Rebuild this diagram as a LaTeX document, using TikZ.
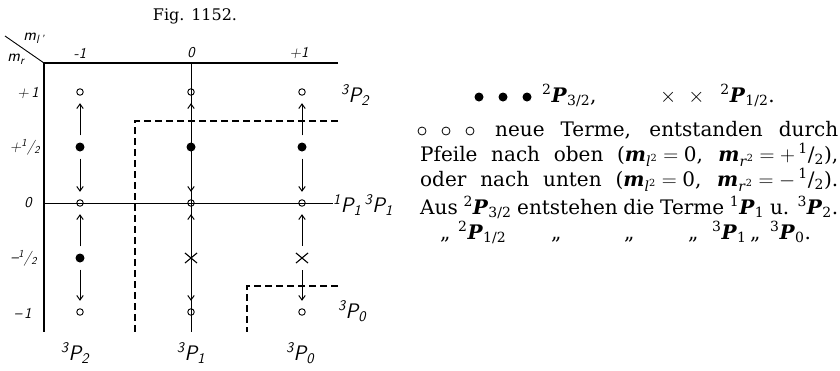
\documentclass[tikz,border=0pt]{standalone}
\usepackage{fontspec}
\setmainfont{DejaVu Serif}
\usetikzlibrary{arrows.meta,shapes.misc}
\newcommand{\Tm}[2]{\textsuperscript{#1}\textbf{\textit{P}}\textsubscript{#2}}
\newcommand{\Mq}[1]{\textbf{\textit{m}}\textsubscript{\textit{#1}\textsuperscript{2}}}
\newcommand{\Hf}{\textsuperscript{1}/\textsubscript{2}}
\newcommand{\Lt}[2]{\textsuperscript{#1}P\textsubscript{#2}}
\newcommand{\Lf}{\textsuperscript{1}/\textsubscript{2}}
\tikzset{
  oc/.style={circle,draw,inner sep=0pt,minimum size=6.5pt,line width=0.9pt},
  fd/.style={circle,fill,inner sep=0pt,minimum size=9pt},
  xx/.style={cross out,draw,inner sep=0pt,minimum width=11pt,minimum height=9pt,line width=1.1pt},
  arr/.style={-{Straight Barb[length=4.5pt,width=6.5pt]},line width=1pt,shorten >=7.5pt,shorten <=7pt},
  lab/.style={font=\sffamily\slshape\fontsize{15}{15}\selectfont,inner sep=0pt},
  term/.style={font=\sffamily\slshape\fontsize{21}{21}\selectfont,inner sep=0pt},
  dsh/.style={dash pattern=on 7pt off 4pt,line width=1.2pt},
  axis/.style={line width=1.2pt},
  txt/.style={inner sep=0pt,anchor=base west,font=\fontsize{20}{24}\selectfont},
  toc/.style={circle,draw,inner sep=0pt,minimum size=8pt,line width=0.8pt},
}
\begin{document}
\begin{tikzpicture}[x=1pt,y=-1pt]
\useasboundingbox (0,0) rectangle (840,370);
% title
\node[font=\fontsize{16}{16}\selectfont] (title) at (195,16) {Fig. 1152.};
% axes
\coordinate (O) at (44,63);
\coordinate (Tend) at (338,63);
\coordinate (Lend) at (44,332);
\coordinate (D) at (5,36);
\draw[axis] (Tend) -- (O) -- (Lend);
\draw[line width=0.9pt] (D) -- (O);
\node[lab,font=\sffamily\slshape\fontsize{17}{17}\selectfont] (ml) at (34,38) {\textit{m}\textsubscript{\textit{l}\,'}};
\node[lab,font=\sffamily\slshape\fontsize{17}{17}\selectfont] (mr) at (16,59) {\textit{m}\textsubscript{\textit{r}}};
% column headers
\node[lab] (hm) at (80,53) {-1};
\node[lab] (h0) at (191,53) {0};
\node[lab] (hp) at (299,53) {+1};
% row labels
\node[lab] (r1) at (28,93) {+\,1};
\node[lab] (r2) at (25,147) {+\Lf};
\node[lab] (r3) at (28,203) {0};
\node[lab] (r4) at (24,258) {\textendash\Lf};
\node[lab] (r5) at (23,313) {\textendash\,1};
% term labels
\node[term] (t2r) at (355,95) {\Lt{3}{2}};
\node[term,anchor=west] (t11) at (333,205) {\Lt{1}{1}\,\Lt{3}{1}};
\node[term] (t0r) at (352,311) {\Lt{3}{0}};
\node[term] (b2) at (75,353) {\Lt{3}{2}};
\node[term] (b1) at (191,353) {\Lt{3}{1}};
\node[term] (b0) at (300,353) {\Lt{3}{0}};
% row 0 line and column 0 line
\coordinate (Z0) at (44,203);
\draw[line width=0.8pt] (Z0) -- (Z0 -| t11.west);
\coordinate (C0t) at (191,63);
\coordinate (C0b) at (191,332);
\draw[line width=0.9pt] (C0t) -- (C0b);
% dashed lines
\coordinate (U1) at (338,121);
\coordinate (U2) at (135,121);
\coordinate (U3) at (135,332);
\draw[dsh] (U1) -- (U2) -- (U3);
\coordinate (V1) at (338,286);
\coordinate (V2) at (247,286);
\coordinate (V3) at (247,332);
\draw[dsh] (V1) -- (V2) -- (V3);
% column -1
\node[oc] (a1) at (80,92) {};
\node[fd] (a2) at (80,147) {};
\node[oc] (a3) at (80,203) {};
\node[fd] (a4) at (80,258) {};
\node[oc] (a5) at (80,312) {};
% column 0
\node[oc] (b1n) at (191,92) {};
\node[fd] (b2n) at (191,147) {};
\node[oc] (b3n) at (191,203) {};
\node[xx] (b4n) at (191,258) {};
\node[oc] (b5n) at (191,312) {};
% column +1
\node[oc] (c1) at (302,92) {};
\node[fd] (c2) at (302,147) {};
\node[oc] (c3) at (302,203) {};
\node[xx] (c4) at (302,258) {};
\node[oc] (c5) at (302,312) {};
% arrows
\foreach \s/\t in {a2/a1,a2/a3,a4/a3,a4/a5,b2n/b1n,b2n/b3n,b4n/b3n,b4n/b5n,c2/c1,c2/c3,c4/c3,c4/c5}
  \draw[arr] (\s) -- (\t);
% legend text
\node[fd] (ld1) at (479,97) {};
\node[fd] (ld2) at (503,97) {};
\node[fd] (ld3) at (527,97) {};
\node[txt] (l1a) at (542,102) {\Tm{2}{3/2},};
\node[txt] (l1b) at (660,102) {$\times$\hspace{0.6em}$\times$\hspace{0.8em}\Tm{2}{1/2}.};
\node[toc] (lo1) at (422,131) {};
\node[toc] (lo2) at (446,131) {};
\node[toc] (lo3) at (470,131) {};
\node[txt] (l2) at (495,136) {\hbox to 343pt{neue Terme, entstanden durch}};
\node[txt] (l3) at (420,161) {\hbox to 418pt{Pfeile nach oben (\Mq{l}\;$=$\;0, \Mq{r}\;$=$\;$+$\,\Hf),}};
\node[txt] (l4) at (420,186) {\hbox to 418pt{oder nach unten (\Mq{l}\;$=$\;0, \Mq{r}\;$=$\;$-$\,\Hf).}};
\node[txt] (l5) at (420,214) {\hbox to 418pt{Aus \Tm{2}{3/2} entstehen die Terme \Tm{1}{1} u. \Tm{3}{2}.}};
\node[txt] (l6a) at (440,239) {„};
\node[txt] (l6b) at (458,239) {\Tm{2}{1/2}};
\node[txt] (l6c) at (551,239) {„};
\node[txt] (l6d) at (624,239) {„};
\node[txt] (l6e) at (688,239) {„};
\node[txt] (l6f) at (712,239) {\Tm{3}{1}};
\node[txt] (l6g) at (750,239) {„};
\node[txt] (l6h) at (770,239) {\Tm{3}{0}.};
\end{tikzpicture}
\end{document}
